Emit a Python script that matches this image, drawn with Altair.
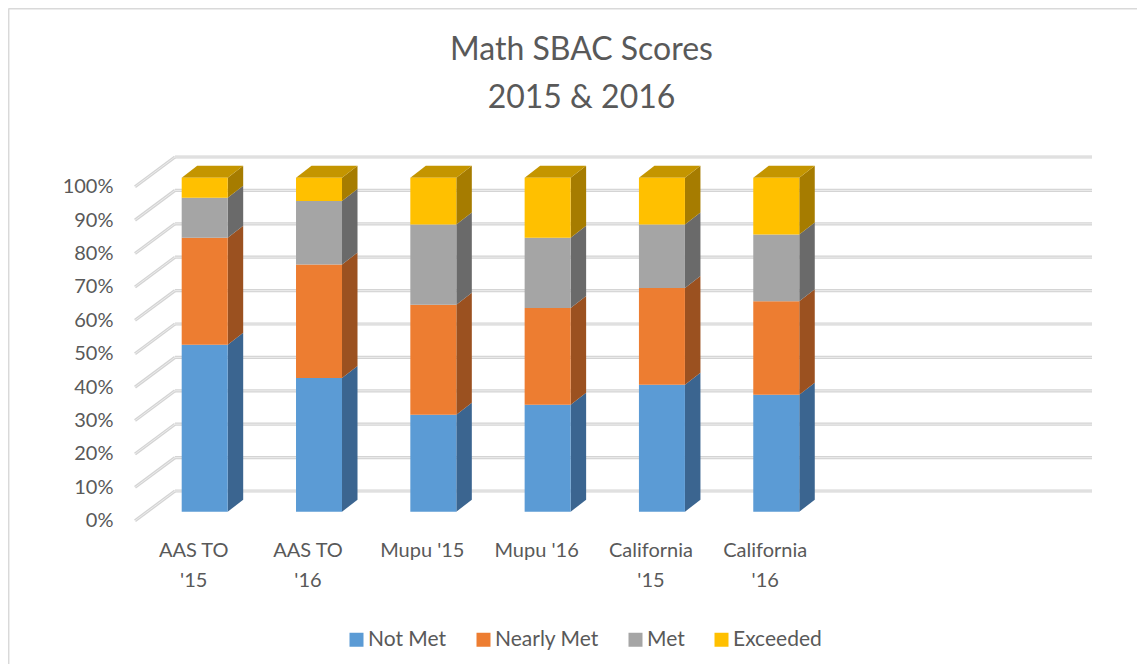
import json
import altair as alt
import pandas as pd

# ---------------- data ----------------
categories = ["AAS TO '15", "AAS TO '16", "Mupu '15", "Mupu '16", "California '15", "California '16"]
x_label_lines = [["AAS TO", "'15"], ["AAS TO", "'16"], ["Mupu '15"], ["Mupu '16"],
                 ["California", "'15"], ["California", "'16"]]
statuses = ["Not Met", "Nearly Met", "Met", "Exceeded"]
not_met = [50, 40, 29, 32, 38, 35]
nearly_met = [32, 34, 33, 29, 29, 28]
met = [12, 19, 24, 21, 19, 20]
exceeded = [6, 7, 14, 18, 14, 17]
y_ticks = [0, 10, 20, 30, 40, 50, 60, 70, 80, 90, 100]
y_tick_labels = ["0%", "10%", "20%", "30%", "40%", "50%", "60%", "70%", "80%", "90%", "100%"]

# ---------------- styling ----------------
front_colors = ["#5B9BD5", "#ED7D31", "#A5A5A5", "#FFC000"]
side_colors = ["#3B6590", "#9B5120", "#6A6A6A", "#A67C00"]
top_color = "#C49500"
text_color = "#595959"
FONT = "Lato"
FS = 20

PX_X = 114.32   # px per category step
PX_Y = 3.34     # px per percent
X_MIN, X_MAX = -0.6097, 7.762
Y_MIN, Y_MAX = -2.78, 106.5
HW = 23 / PX_X          # half bar width
DX = 15.5 / PX_X        # depth (x)
DY = 12 / PX_Y          # depth (y)
BACK_DY = 6.2
FRONT_DY = -2.7
BACK_X = X_MIN + 40 / PX_X

series = [not_met, nearly_met, met, exceeded]

front_rows, side_rows, top_rows = [], [], []
for i, cat in enumerate(categories):
    base = 0
    for k, s in enumerate(statuses):
        v = series[k][i]
        front_rows.append(dict(cat=cat, status=s, x0=i - HW, x1=i + HW, y0=base, y1=base + v))
        for d in (0, 1):
            side_rows.append(dict(seg=f"{i}-{k}", status=s, x=i + HW + d * DX,
                                  ya=base + d * DY, yb=base + v + d * DY))
        base += v
    for d in (0, 1):
        top_rows.append(dict(bar=i, y=base + d * DY, xa=i - HW + d * DX, xb=i + HW + d * DX))

df_front = pd.DataFrame(front_rows)
df_side = pd.DataFrame(side_rows)
df_top = pd.DataFrame(top_rows)
df_grid = pd.DataFrame(dict(v=y_ticks))
df_grid["yb"] = df_grid["v"] + BACK_DY
df_grid["yf"] = df_grid["v"] + FRONT_DY
df_grid["xs"] = BACK_X
df_grid["xe"] = X_MAX
df_grid["xf"] = X_MIN

xs = alt.Scale(domain=[X_MIN, X_MAX], nice=False, zero=False)
ys = alt.Scale(domain=[Y_MIN, Y_MAX], nice=False, zero=False)

common_axis = dict(grid=False, domain=False, ticks=False, labelFont=FONT, labelFontSize=FS,
                   labelColor=text_color, labelOverlap=False, labelFlush=False, title=None)
x_axis = alt.Axis(values=list(range(len(categories))),
                  labelExpr=f"{json.dumps(x_label_lines)}[datum.value]",
                  labelBaseline="top", labelPadding=19, labelLineHeight=30,
                  labelOffset=-11.5, labelBound=False, **common_axis)
y_axis = alt.Axis(values=y_ticks,
                  labelExpr=f"{json.dumps(y_tick_labels)}[indexof({json.dumps(y_ticks)}, datum.value)]",
                  labelPadding=22, labelOffset=9, labelBaseline="middle", **common_axis)


def X(field, **kw):
    return alt.X(field, scale=xs, axis=x_axis, **kw)


def Y(field, **kw):
    return alt.Y(field, scale=ys, axis=y_axis, **kw)


layers = []
# gridlines (back wall + left wall diagonals)
for col, w in (("#d4d4d4", 3.2), ("#ececec", 1)):
    layers.append(alt.Chart(df_grid).mark_rule(color=col, strokeWidth=w).encode(
        x=X("xs:Q"), x2="xe:Q", y=Y("yb:Q")))
    layers.append(alt.Chart(df_grid).mark_rule(color=col, strokeWidth=w).encode(
        x=X("xf:Q"), x2="xs:Q", y=Y("yf:Q"), y2="yb:Q"))

# side faces
for k, s in enumerate(statuses):
    layers.append(alt.Chart(df_side[df_side.status == s]).mark_area(color=side_colors[k]).encode(
        x=X("x:Q"), y=Y("ya:Q", stack=None), y2="yb:Q", detail="seg:N"))

# top faces
layers.append(alt.Chart(df_top).mark_area(orient="horizontal", color=top_color).encode(
    y=Y("y:Q"), x=X("xa:Q", stack=None), x2="xb:Q", detail="bar:N"))

# front faces
layers.append(alt.Chart(df_front).mark_rect().encode(
    x=X("x0:Q"), x2="x1:Q",
    y=Y("y0:Q"), y2="y1:Q",
    color=alt.Color("status:N", scale=alt.Scale(domain=statuses, range=front_colors),
                    legend=alt.Legend(title=None, orient="none", legendX=211, legendY=473,
                                      direction="horizontal", symbolType="square", symbolSize=196,
                                      symbolStrokeWidth=0, labelFontSize=21, labelColor=text_color,
                                      labelFont=FONT, columnPadding=26, labelOffset=1, padding=0)),
    tooltip=["cat:N", "status:N"]))

# outer frame (top and left edges)
one = pd.DataFrame(dict(a=[0]))
layers.append(alt.Chart(one).mark_rule(color="#d9d9d9", strokeWidth=1.5).encode(
    x=alt.value(-126.5), x2=alt.value(1002), y=alt.value(-147.3)))
layers.append(alt.Chart(one).mark_rule(color="#d9d9d9", strokeWidth=1.5).encode(
    x=alt.value(-126.3), y=alt.value(-147.5), y2=alt.value(508)))

chart = alt.layer(*layers).properties(
    width=957, height=365,
    background="white",
    autosize=alt.AutoSizeParams(type="none"),
    padding={"left": 127, "top": 148, "right": 45, "bottom": 143},
    title=alt.TitleParams(text=["Math SBAC Scores", "2015 & 2016"], fontSize=32, font=FONT,
                          fontWeight="normal", color=text_color, anchor="middle", frame="group",
                          dx=-32, baseline="top", dy=107, offset=0, lineHeight=48),
).configure_view(stroke=None)

chart.save("out.html", embed_options={"renderer": "svg", "actions": False})
